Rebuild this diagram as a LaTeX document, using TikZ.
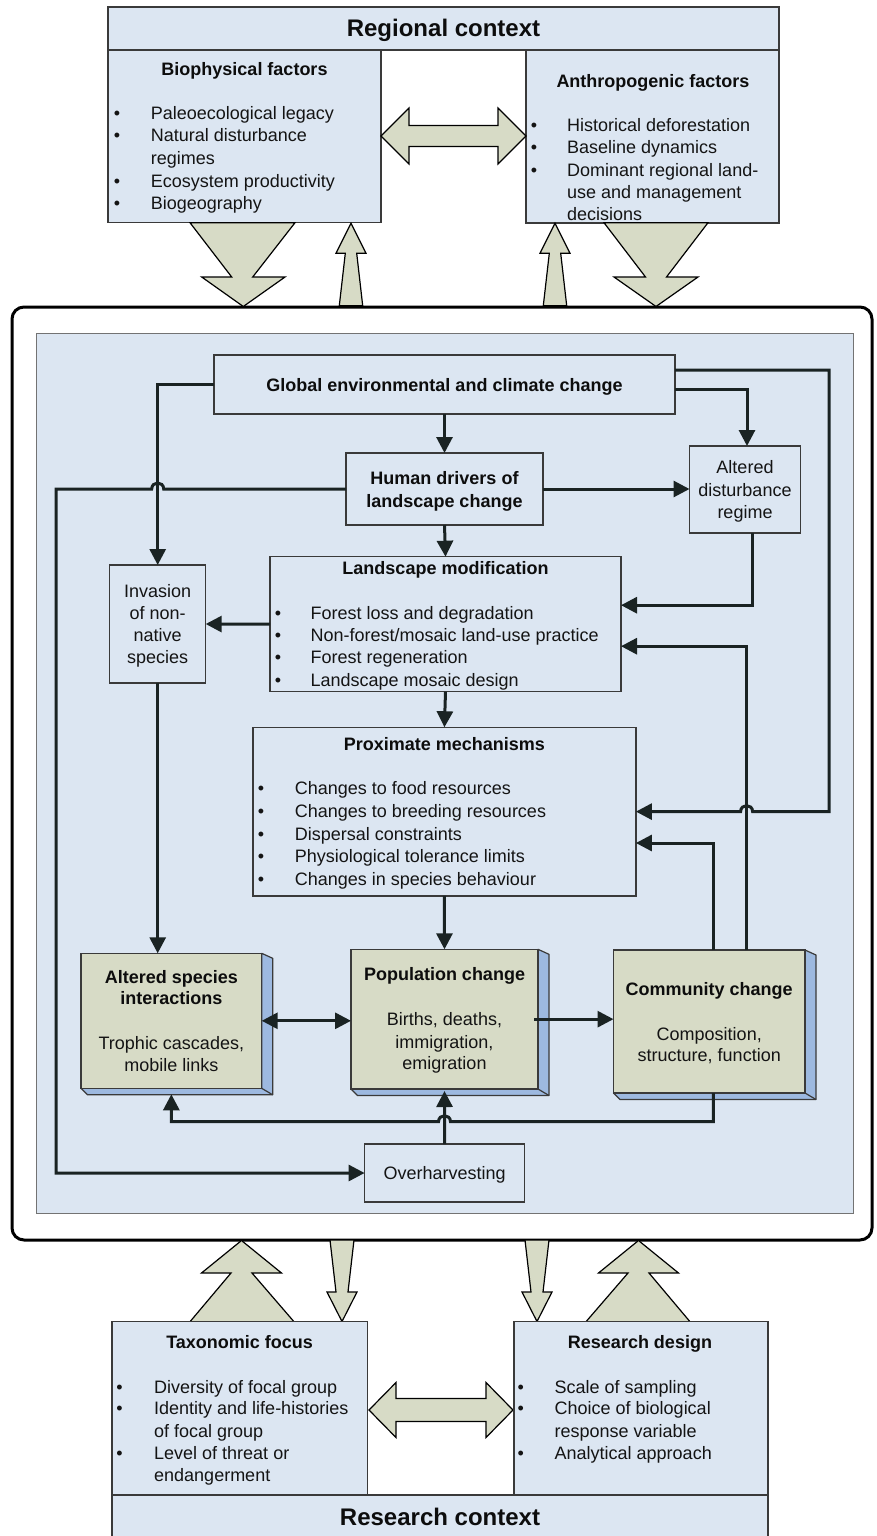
\documentclass[tikz,border=0pt]{standalone}
\usepackage{fontspec}
\setmainfont{Liberation Sans}
\usetikzlibrary{arrows.meta}
\definecolor{boxblue}{HTML}{DCE6F2}
\definecolor{khaki}{HTML}{D7DBC6}
\definecolor{bevelblue}{HTML}{9DB9E0}
\definecolor{ink}{HTML}{1A2323}
\definecolor{edge}{HTML}{3A3A3A}
\newcommand\tl[4]{\node[txt,anchor=base west] (#1) at (#2,#3) {#4};}
\newcommand\tc[4]{\node[txt,anchor=base] (#1) at (#2,#3) {#4};}
\newcommand\tb[4]{\node[ttl,anchor=base] (#1) at (#2,#3) {#4};}
\newcommand\bu[3]{\node[txt,anchor=base] (#1) at (#2,#3) {•};}
\newcommand\bevel[4]{%
  \draw[draw=edge,line width=1.2pt,fill=bevelblue,line join=round]
    (#3,#2) -- ++(11,5) -- (#3+11,#4+6.5) -- (#1+6.5,#4+6.5) -- (#1,#4) -- (#3,#4) -- cycle;
  \draw[draw=edge,line width=1.2pt] (#3,#4) -- (#3+11,#4+6.5);}
\begin{document}
\begin{tikzpicture}[x=1pt,y=-1pt,
  box/.style={draw=edge, line width=1.3pt, fill=boxblue, inner sep=0pt, outer sep=0pt},
  cube/.style={draw=edge, line width=1.3pt, fill=khaki, inner sep=0pt, outer sep=0pt},
  txt/.style={inner sep=0pt, font=\fontsize{18}{22}\selectfont, text=black!92},
  ttl/.style={inner sep=0pt, font=\fontsize{18}{22}\selectfont\bfseries, text=black!95},
  big/.style={inner sep=0pt, font=\fontsize{24}{28}\selectfont\bfseries, text=black!95},
  conn/.style={draw=ink, line width=3pt},
  tip/.style={-{Triangle[length=16pt,width=16pt]}},
  fat/.style={draw=black, line width=1.2pt, fill=khaki, line join=miter},
]
\fill[white] (0,0) rectangle (877,1536);
\useasboundingbox (0,0) rectangle (877,1536);

% ---------- regional context ----------
\node[box, minimum width=671pt, minimum height=43pt] (reg) at (443.5,28.5) {};
\node[big, anchor=base] (regT) at (443.5,36.6) {Regional context};
\node[box, minimum width=273pt, minimum height=172.7pt] (bio) at (244.5,136.35) {};
\node[box, minimum width=253pt, minimum height=173pt] (anth) at (652.5,136.5) {};
\tb{bioT}{244.5}{75.5}{Biophysical factors}
\bu{bioB1}{117}{119.5}\tl{bio1}{150.7}{119.5}{Paleoecological legacy}
\bu{bioB2}{117}{142}\tl{bio2}{150.7}{142}{Natural disturbance}
\tl{bio3}{150.7}{164.5}{regimes}
\bu{bioB4}{117}{187}\tl{bio4}{150.7}{187}{Ecosystem productivity}
\bu{bioB5}{117}{209.5}\tl{bio5}{150.7}{209.5}{Biogeography}
\tb{anthT}{653}{87.2}{Anthropogenic factors}
\bu{anB1}{534}{131.5}\tl{an1}{567}{131.5}{Historical deforestation}
\bu{anB2}{534}{153.8}\tl{an2}{567}{153.8}{Baseline dynamics}
\bu{anB3}{534}{176.1}\tl{an3}{567}{176.1}{Dominant regional land-}
\tl{an4}{567}{198.4}{use and management}
\tl{an5}{567}{220.7}{decisions}

% ---------- frame and panel ----------
\node[draw=black, line width=3pt, fill=white, rounded corners=12pt, minimum width=860pt, minimum height=933pt, inner sep=0pt] (frame) at (442,773.5) {};
\node[draw=black!55, line width=1pt, fill=boxblue, minimum width=817pt, minimum height=880pt, inner sep=0pt] (panel) at (444.5,773) {};

% fat arrows top
\draw[fat] (bio.south -| 190,0) -- (295,222.7) -- (252.7,277) -- (285,277) -- (243.3,306.5) -- (201.7,277) -- (231.7,277) -- cycle;
\draw[fat] (351,223.3) -- (366,253.3) -- (356.7,253.3) -- (362.7,305.7) -- (339.3,305.7) -- (345.3,253.3) -- (336,253.3) -- cycle;
\draw[fat] (555,223.3) -- (570,253.3) -- (560.7,253.3) -- (566.7,305.7) -- (543.3,305.7) -- (549.3,253.3) -- (540,253.3) -- cycle;
\draw[fat] (604,222.7) -- (708,222.7) -- (666.5,277) -- (698,277) -- (656,306.5) -- (614,277) -- (645.5,277) -- cycle;
\draw[fat] (381,136) -- (409,108) -- (409,125.5) -- (498,125.5) -- (498,108) -- (526,136) -- (498,164) -- (498,146.5) -- (409,146.5) -- (409,164) -- cycle;

% fat arrows bottom
\draw[fat] (241.5,1240.5) -- (281.5,1273) -- (252,1273) -- (294,1321.7) -- (190,1321.7) -- (231,1273) -- (201.5,1273) -- cycle;
\draw[fat] (330,1240) -- (354,1240) -- (348,1292) -- (357,1292) -- (342,1321.5) -- (327,1292) -- (336,1292) -- cycle;
\draw[fat] (525,1240) -- (549,1240) -- (543,1292) -- (552,1292) -- (537,1321.5) -- (522,1292) -- (531,1292) -- cycle;
\draw[fat] (638.5,1240.5) -- (678.5,1273) -- (649,1273) -- (690,1321.7) -- (586,1321.7) -- (628,1273) -- (598.5,1273) -- cycle;
\draw[fat] (369,1410) -- (396,1382.5) -- (396,1398.5) -- (486,1398.5) -- (486,1382.5) -- (513,1410) -- (486,1437.5) -- (486,1421.5) -- (396,1421.5) -- (396,1437.5) -- cycle;

% ---------- research context ----------
\node[box, minimum width=255.6pt, minimum height=173.3pt] (tax) at (239.8,1408.35) {};
\node[box, minimum width=254pt, minimum height=173.3pt] (rdes) at (641,1408.35) {};
\node[box, minimum width=656pt, minimum height=48pt] (rctx) at (440,1519) {};
\node[big, anchor=base] (rctxT) at (440,1525.3) {Research context};
\tb{taxT}{239.6}{1348.2}{Taxonomic focus}
\bu{taxB1}{119.5}{1393.2}\tl{tax1}{154}{1393.2}{Diversity of focal group}
\bu{taxB2}{119.5}{1414.5}\tl{tax2}{154}{1414.5}{Identity and life-histories}
\tl{tax3}{154}{1437.2}{of focal group}
\bu{taxB4}{119.5}{1459.2}\tl{tax4}{154}{1459.2}{Level of threat or}
\tl{tax5}{154}{1481.5}{endangerment}
\tb{rdT}{640}{1348.2}{Research design}
\bu{rdB1}{520.7}{1393.2}\tl{rd1}{554.5}{1393.2}{Scale of sampling}
\bu{rdB2}{520.7}{1414.5}\tl{rd2}{554.5}{1414.5}{Choice of biological}
\tl{rd3}{554.5}{1437.2}{response variable}
\bu{rdB4}{520.7}{1459.2}\tl{rd4}{554.5}{1459.2}{Analytical approach}

% ---------- inner boxes ----------
\node[box, minimum width=461pt, minimum height=59pt] (glob) at (444.5,384.5) {};
\tb{globT}{444.5}{391.5}{Global environmental and climate change}
\node[box, minimum width=197pt, minimum height=72pt] (human) at (444.5,489) {};
\tb{humT1}{444.5}{484.5}{Human drivers of}
\tb{humT2}{444.5}{507.5}{landscape change}
\node[box, minimum width=111pt, minimum height=87pt] (alt) at (745,489.5) {};
\tc{altT1}{745}{473.5}{Altered}
\tc{altT2}{745}{496.5}{disturbance}
\tc{altT3}{745}{518.5}{regime}
\node[box, minimum width=351pt, minimum height=135pt] (land) at (445.5,624.2) {};
\tb{landT}{445.5}{574.5}{Landscape modification}
\bu{lB1}{278}{619.2}\tl{l1}{310.4}{619.2}{Forest loss and degradation}
\bu{lB2}{278}{641.5}\tl{l2}{310.4}{641.5}{Non-forest/mosaic land-use practice}
\bu{lB3}{278}{663.9}\tl{l3}{310.4}{663.9}{Forest regeneration}
\bu{lB4}{278}{686.3}\tl{l4}{310.4}{686.3}{Landscape mosaic design}
\node[box, minimum width=96pt, minimum height=118pt] (inv) at (157.7,624) {};
\tc{invT1}{157.7}{597}{Invasion}
\tc{invT2}{157.7}{619.3}{of non-}
\tc{invT3}{157.7}{641.6}{native}
\tc{invT4}{157.7}{663.9}{species}
\node[box, minimum width=383pt, minimum height=168.7pt] (prox) at (444.4,811.6) {};
\tb{proxT}{444.4}{750.5}{Proximate mechanisms}
\bu{pB1}{261}{794.5}\tl{p1}{294.7}{794.5}{Changes to food resources}
\bu{pB2}{261}{817.25}\tl{p2}{294.7}{817.25}{Changes to breeding resources}
\bu{pB3}{261}{840}\tl{p3}{294.7}{840}{Dispersal constraints}
\bu{pB4}{261}{862.75}\tl{p4}{294.7}{862.75}{Physiological tolerance limits}
\bu{pB5}{261}{885.5}\tl{p5}{294.7}{885.5}{Changes in species behaviour}
\node[box, minimum width=160pt, minimum height=58pt] (over) at (444.6,1173) {};
\tc{overT}{444.6}{1179.5}{Overharvesting}

% cubes
\bevel{81}{953.3}{261.7}{1088.3}
\node[cube, minimum width=180.7pt, minimum height=135pt] (asp) at (171.35,1020.8) {};
\bevel{351}{949.3}{538}{1089}
\node[cube, minimum width=187pt, minimum height=139.7pt] (pop) at (444.5,1019.15) {};
\bevel{613.5}{950}{805}{1093}
\node[cube, minimum width=191.5pt, minimum height=143pt] (comm) at (709.25,1021.5) {};
\tb{aspT1}{171.35}{983.2}{Altered species}
\tb{aspT2}{171.35}{1004.5}{interactions}
\tc{asp1}{171.35}{1049.5}{Trophic cascades,}
\tc{asp2}{171.35}{1071.5}{mobile links}
\tb{popT}{444.5}{980.5}{Population change}
\tc{pop1}{444.5}{1025.5}{Births, deaths,}
\tc{pop2}{444.5}{1048.2}{immigration,}
\tc{pop3}{444.5}{1069.5}{emigration}
\tb{commT}{709.25}{995.5}{Community change}
\tc{comm1}{709.25}{1040.5}{Composition,}
\tc{comm2}{709.25}{1061.5}{structure, function}

% ---------- connectors ----------
\draw[conn,tip] (glob.south) -- (human.north);
\draw[conn,tip] ([yshift=-4.5pt]glob.east) -| ([xshift=2pt]alt.north);
\draw[conn,tip] ([yshift=14.5pt]glob.east) -- (829,370) -- (829,811.6) -- (752.6,811.6)
   .. controls (752.6,803.6) and (740.6,803.6) .. (740.6,811.6) -- (prox.east);
\draw[conn,tip] (glob.west) -| (inv.north);
\draw[conn,tip] (human.east) -- (human.east -| alt.west);
\draw[conn,tip] (human.west) -- (163.7,489) .. controls (163.7,481) and (151.7,481) .. (151.7,489)
   -- (56,489) -- (56,1173) -- (over.west);
\draw[conn,tip] (human.south) -- (land.north);
\draw[conn,tip] ([xshift=7pt]alt.south) |- ([yshift=19pt]land.east);
\draw[conn,tip] (land.west) -- (inv.east);
\draw[conn,tip] ([xshift=37.5pt]comm.north) |- ([yshift=-22pt]land.east);
\draw[conn,tip] ([xshift=4pt]comm.north) |- ([yshift=-31.4pt]prox.east);
\draw[conn,tip] (land.south) -- (prox.north);
\draw[conn,tip] (prox.south) -- (pop.north);
\draw[conn,tip] (inv.south) -- (inv.south |- asp.north);
\draw[conn,{Triangle[length=16pt,width=16pt]}-{Triangle[length=16pt,width=16pt]}] (asp.east) -- (asp.east -| pop.west);
\draw[conn,tip] ([xshift=-4pt]pop.east) -- (pop.east -| comm.west);
\draw[conn,tip] ([xshift=4pt]comm.south) |- (450.5,1121.7) .. controls (450.5,1113.7) and (438.5,1113.7) .. (438.5,1121.7) -| ([yshift=-6pt]asp.south);
\draw[conn,tip] (over.north) -- ([yshift=-2pt]pop.south);
\end{tikzpicture}
\end{document}
